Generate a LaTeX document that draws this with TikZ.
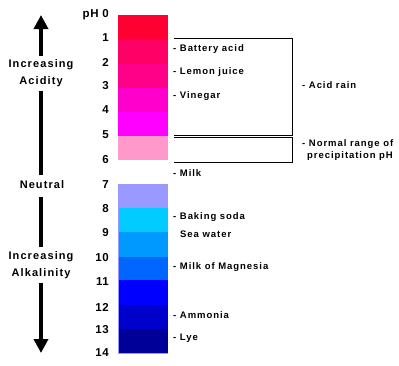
\documentclass[tikz,border=0pt]{standalone}
\usepackage{fontspec}
\setmainfont{Liberation Sans}
\newfontfamily\lblfont[LetterSpace=10]{Liberation Sans Bold}
\newfontfamily\numfont[LetterSpace=5]{Liberation Sans Bold}
\usetikzlibrary{arrows.meta}
\definecolor{c0}{HTML}{FF0033}
\definecolor{c1}{HTML}{FF0066}
\definecolor{c2}{HTML}{FF0088}
\definecolor{c3}{HTML}{FF00CC}
\definecolor{c4}{HTML}{FF00FF}
\definecolor{c5}{HTML}{FF99CC}
\definecolor{c7}{HTML}{9999FF}
\definecolor{c8}{HTML}{00CCFF}
\definecolor{c9}{HTML}{0099FF}
\definecolor{c10}{HTML}{0066FF}
\definecolor{c11}{HTML}{0000FF}
\definecolor{c12}{HTML}{0000CC}
\definecolor{c13}{HTML}{000099}
\tikzset{
  num/.style={anchor=east,inner sep=0pt,font=\numfont\fontsize{11.5}{13}\selectfont},
  lbl/.style={anchor=west,inner sep=0pt,font=\lblfont\fontsize{9.5}{11}\selectfont},
  side/.style={align=center,inner sep=0pt,font=\lblfont\fontsize{11}{17}\selectfont},
  shaft/.style={line width=4pt},
  bracket/.style={line width=0.8pt},
  tip/.style={-{Triangle[width=14pt,length=14pt]}}
}
\begin{document}
\begin{tikzpicture}[x=1pt,y=-1pt]
\useasboundingbox (0,0) rectangle (399,365);
% bar
\fill[c0] (118,15) rectangle (168,40);
\fill[c1] (118,40) rectangle (168,64);
\fill[c2] (118,64) rectangle (168,88);
\fill[c3] (118,88) rectangle (168,112);
\fill[c4] (118,112) rectangle (168,136);
\fill[c5] (118,136) rectangle (168,160);
\fill[c7] (118,184) rectangle (168,208);
\fill[c8] (118,208) rectangle (168,232);
\fill[c9] (118,232) rectangle (168,257);
\fill[c10] (118,257) rectangle (168,280);
\fill[c11] (118,280) rectangle (168,305);
\fill[c12] (118,305) rectangle (168,329);
\fill[c13] (118,329) rectangle (168,353);
\draw[c7,line width=0.7pt] (118,184) -- (118,353) -- (168,353);
% numbers
\node[num] (n0) at (109,15) {pH 0};
\foreach \i/\y in {1/38,2/62,3/86,4/110,5/135,6/160,7/185,8/209,9/233,10/258,11/282,12/307,13/330,14/353}
  \node[num] (n\i) at (109,\y) {\i};
% side texts and arrows
\node[side] (acid) at (41,73) {Increasing\\Acidity};
\node[side] (neutral) at (42,185) {Neutral};
\node[side] (alk) at (41,265) {Increasing\\Alkalinity};
\coordinate (uptip) at (41,15);
\coordinate (upbot) at (41,175);
\coordinate (dntop) at (41,197);
\coordinate (dntip) at (41,353);
\draw[shaft,tip] ([yshift=3pt]acid.north) -- (uptip);
\draw[shaft] ([yshift=-4pt]acid.south) -- (upbot);
\draw[shaft] (dntop) -- ([yshift=4pt]alk.north);
\draw[shaft,tip] ([yshift=-4pt]alk.south) -- (dntip);
% labels
\node[lbl] (bat) at (173,49) {- Battery acid};
\node[lbl] (lem) at (173,72) {- Lemon juice};
\node[lbl] (vin) at (173,96) {- Vinegar};
\node[lbl] (milk) at (173,173) {- Milk};
\node[lbl] (bak) at (173,217) {- Baking soda};
\node[lbl] (sea) at (180,234) {Sea water};
\node[lbl] (mag) at (173,267) {- Milk of Magnesia};
\node[lbl] (amm) at (173,315) {- Ammonia};
\node[lbl] (lye) at (173,338) {- Lye};
\node[lbl] (rain) at (302,85) {- Acid rain};
\node[lbl] (norm) at (302,144) {- Normal range of};
\node[lbl] (prec) at (307,156) {precipitation pH};
% brackets
\coordinate (a1) at (174,38);
\coordinate (a2) at (292,38);
\coordinate (a3) at (292,135);
\coordinate (a4) at (174,135);
\coordinate (b1) at (174,137.5);
\coordinate (b2) at (292,137.5);
\coordinate (b3) at (292,162);
\coordinate (b4) at (174,162);
\draw[bracket] (a1) -- (a2) -- (a3) -- (a4);
\draw[bracket] (b1) -- (b2) -- (b3) -- (b4);
\end{tikzpicture}
\end{document}
